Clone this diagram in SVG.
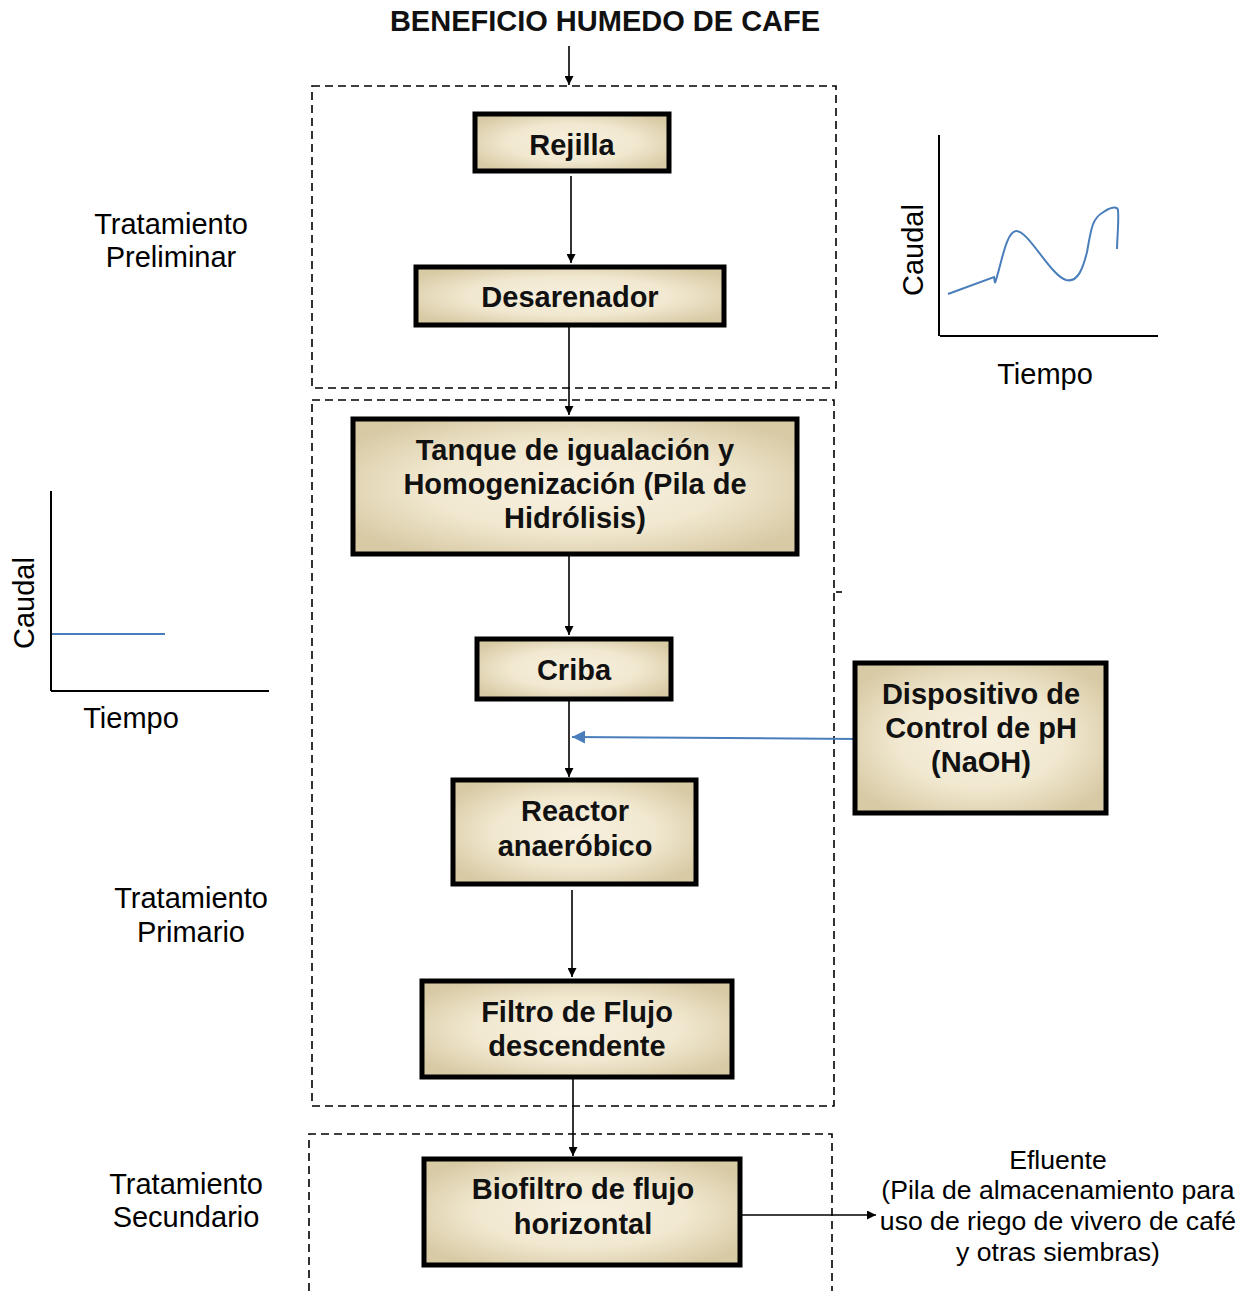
<svg xmlns="http://www.w3.org/2000/svg" width="1256" height="1291" viewBox="0 0 1256 1291">
<style>
.box{fill:url(#g);stroke:#000;stroke-width:5}
.bt{font-family:"Liberation Sans",Arial,sans-serif;font-weight:bold;font-size:29px;text-anchor:middle;fill:#111}
.lt{font-family:"Liberation Sans",Arial,sans-serif;font-size:29px;text-anchor:middle;fill:#000}
.et{font-family:"Liberation Sans",Arial,sans-serif;font-size:26.6px;text-anchor:middle;fill:#000}
.dash{fill:none;stroke:#000;stroke-width:1.6;stroke-dasharray:8 5}
.con{stroke:#000;stroke-width:1.6;fill:none}
.ax{stroke:#000;stroke-width:2;fill:none}
.bl{stroke:#4a7ebb;stroke-width:2;fill:none}
</style>
<defs>
<radialGradient id="g" cx="50%" cy="50%" r="60%">
<stop offset="0" stop-color="#f7f0de"/>
<stop offset="0.55" stop-color="#f1e8d0"/>
<stop offset="1" stop-color="#d8caa5"/>
</radialGradient>
<marker id="a" viewBox="0 0 10 10" refX="10" refY="5" markerWidth="9" markerHeight="9" markerUnits="userSpaceOnUse" orient="auto">
<path d="M0,0 L10,5 L0,10 z" fill="#000"/>
</marker>
<marker id="ab" viewBox="0 0 10 10" refX="10" refY="5" markerWidth="15" markerHeight="13" markerUnits="userSpaceOnUse" orient="auto">
<path d="M0,0 L10,5 L0,10 z" fill="#4a7ebb"/>
</marker>
</defs>

<text class="bt" x="605" y="31">BENEFICIO HUMEDO DE CAFE</text>

<g id="stages">
<rect class="dash" x="312" y="86" width="524" height="302"/>
<rect class="dash" x="312" y="400" width="522" height="706"/>
<path class="con" d="M836,592 L842,592"/>
<path class="dash" d="M309,1291 L309,1134 L832,1134 L832,1291"/>
</g>

<g id="connectors">
<line class="con" x1="569" y1="46" x2="569" y2="85" marker-end="url(#a)"/>
<line class="con" x1="571" y1="176" x2="571" y2="263" marker-end="url(#a)"/>
<line class="con" x1="569" y1="327" x2="569" y2="415" marker-end="url(#a)"/>
<line class="con" x1="569" y1="556" x2="569" y2="635" marker-end="url(#a)"/>
<line class="con" x1="569" y1="701" x2="569" y2="777" marker-end="url(#a)"/>
<line class="con" x1="572" y1="890" x2="572" y2="977" marker-end="url(#a)"/>
<line class="con" x1="573" y1="1079" x2="573" y2="1156" marker-end="url(#a)"/>
<line class="con" x1="742" y1="1215" x2="876" y2="1215" marker-end="url(#a)"/>
<line class="bl" x1="857" y1="739" x2="572" y2="737" marker-end="url(#ab)"/>
</g>

<g id="rejilla">
<rect class="box" x="475" y="114" width="194" height="57"/>
<text class="bt" x="572" y="155">Rejilla</text>
</g>
<g id="desarenador">
<rect class="box" x="416" y="267" width="308" height="58"/>
<text class="bt" x="570" y="307">Desarenador</text>
</g>
<g id="tanque">
<rect class="box" x="353" y="419" width="444" height="135"/>
<text class="bt" x="575" y="460">Tanque de igualación y</text>
<text class="bt" x="575" y="494">Homogenización (Pila de</text>
<text class="bt" x="575" y="528">Hidrólisis)</text>
</g>
<g id="criba">
<rect class="box" x="477" y="639" width="194" height="60"/>
<text class="bt" x="574" y="680">Criba</text>
</g>
<g id="reactor">
<rect class="box" x="453" y="780" width="243" height="104"/>
<text class="bt" x="575" y="821">Reactor</text>
<text class="bt" x="575" y="856">anaeróbico</text>
</g>
<g id="filtro">
<rect class="box" x="422" y="981" width="310" height="96"/>
<text class="bt" x="577" y="1022">Filtro de Flujo</text>
<text class="bt" x="577" y="1056">descendente</text>
</g>
<g id="biofiltro">
<rect class="box" x="424" y="1159" width="316" height="106"/>
<text class="bt" x="583" y="1199">Biofiltro de flujo</text>
<text class="bt" x="583" y="1234">horizontal</text>
</g>
<g id="dispositivo">
<rect class="box" x="855" y="663" width="251" height="150"/>
<text class="bt" x="981" y="704">Dispositivo de</text>
<text class="bt" x="981" y="738">Control de pH</text>
<text class="bt" x="981" y="772">(NaOH)</text>
</g>

<g id="labels">
<text class="lt" x="171" y="234">Tratamiento</text>
<text class="lt" x="171" y="267">Preliminar</text>
<text class="lt" x="191" y="908">Tratamiento</text>
<text class="lt" x="191" y="942">Primario</text>
<text class="lt" x="186" y="1194">Tratamiento</text>
<text class="lt" x="186" y="1227">Secundario</text>
</g>
<g id="efluente">
<text class="et" x="1058" y="1169">Efluente</text>
<text class="et" x="1058" y="1199">(Pila de almacenamiento para</text>
<text class="et" x="1058" y="1230">uso de riego de vivero de café</text>
<text class="et" x="1058" y="1261">y otras siembras)</text>
</g>

<g id="chart-top">
<path class="ax" d="M939,135 L939,336 M940,336 L1158,336"/>
<path class="bl" d="M948,294 L994,277 L995,283 C1002,262 1006,232 1016,231 C1028,230 1050,275 1066,280 C1078,283 1083,268 1087,252 C1091,230 1092,219 1102,213 C1110,207 1117,206 1118,210 C1119,222 1117,240 1117,249"/>
<text class="lt" transform="translate(923,250) rotate(-90)">Caudal</text>
<text class="lt" x="1045" y="384">Tiempo</text>
</g>
<g id="chart-left">
<path class="ax" d="M51,491 L51,691 M51,691 L269,691"/>
<line class="bl" x1="52" y1="634" x2="165" y2="634"/>
<text class="lt" transform="translate(34,603) rotate(-90)">Caudal</text>
<text class="lt" x="131" y="728">Tiempo</text>
</g>
</svg>
